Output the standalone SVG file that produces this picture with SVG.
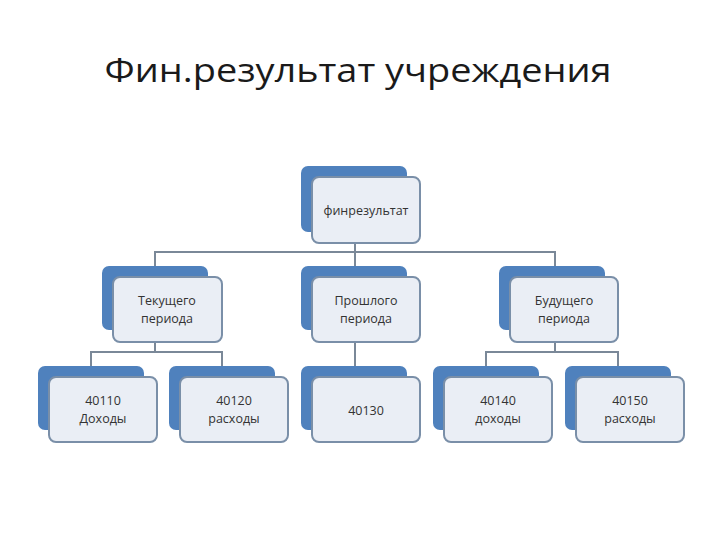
<svg xmlns="http://www.w3.org/2000/svg" width="720" height="540" viewBox="0 0 720 540">
<style>
.b{fill:#4f81bd}
.f{fill:#eaeef5;stroke:#7a8fa8;stroke-width:2}
.t{font-family:"Open Sans","Liberation Sans",sans-serif;font-size:12.5px;fill:#333;text-anchor:middle}
.c{fill:none;stroke:#7a8898;stroke-width:2}
</style>
<rect width="720" height="540" fill="#fff"/>
<text x="358" y="82" font-family="'Open Sans','Liberation Sans',sans-serif" font-size="33" text-anchor="middle" fill="#1a1a1a" textLength="507" lengthAdjust="spacingAndGlyphs">Фин.результат учреждения</text>
<g id="connectors">
<path class="c" d="M355 243V252M155 266V252H555V266M355 252V266"/>
<path class="c" d="M155 342V352M91 366V352H222V366"/>
<path class="c" d="M355 342V366"/>
<path class="c" d="M555 342V352M486 366V352H618V366"/>
</g>
<g id="n0"><rect class="b" x="301" y="166" width="106" height="66" rx="7"/><rect class="f" x="312" y="177" width="108" height="66" rx="7"/><text class="t" x="366" y="215">финрезультат</text></g>
<g id="n1"><rect class="b" x="102" y="266" width="106" height="64" rx="7"/><rect class="f" x="113" y="277" width="109" height="65" rx="7"/><text class="t" x="167" y="305">Текущего</text><text class="t" x="167" y="323">периода</text></g>
<g id="n2"><rect class="b" x="301" y="266" width="106" height="64" rx="7"/><rect class="f" x="312" y="277" width="108" height="65" rx="7"/><text class="t" x="366" y="305">Прошлого</text><text class="t" x="366" y="323">периода</text></g>
<g id="n3"><rect class="b" x="499" y="266" width="106" height="64" rx="7"/><rect class="f" x="510" y="277" width="108" height="65" rx="7"/><text class="t" x="564" y="305">Будущего</text><text class="t" x="564" y="323">периода</text></g>
<g id="n4"><rect class="b" x="38" y="366" width="106" height="64" rx="7"/><rect class="f" x="49" y="377" width="108" height="65" rx="7"/><text class="t" x="103" y="405">40110</text><text class="t" x="103" y="423">Доходы</text></g>
<g id="n5"><rect class="b" x="169" y="366" width="106" height="64" rx="7"/><rect class="f" x="180" y="377" width="108" height="65" rx="7"/><text class="t" x="234" y="405">40120</text><text class="t" x="234" y="423">расходы</text></g>
<g id="n6"><rect class="b" x="301" y="366" width="106" height="64" rx="7"/><rect class="f" x="312" y="377" width="108" height="65" rx="7"/><text class="t" x="366" y="415">40130</text></g>
<g id="n7"><rect class="b" x="433" y="366" width="106" height="64" rx="7"/><rect class="f" x="444" y="377" width="108" height="65" rx="7"/><text class="t" x="498" y="405">40140</text><text class="t" x="498" y="423">доходы</text></g>
<g id="n8"><rect class="b" x="565" y="366" width="106" height="64" rx="7"/><rect class="f" x="576" y="377" width="108" height="65" rx="7"/><text class="t" x="630" y="405">40150</text><text class="t" x="630" y="423">расходы</text></g>
</svg>
